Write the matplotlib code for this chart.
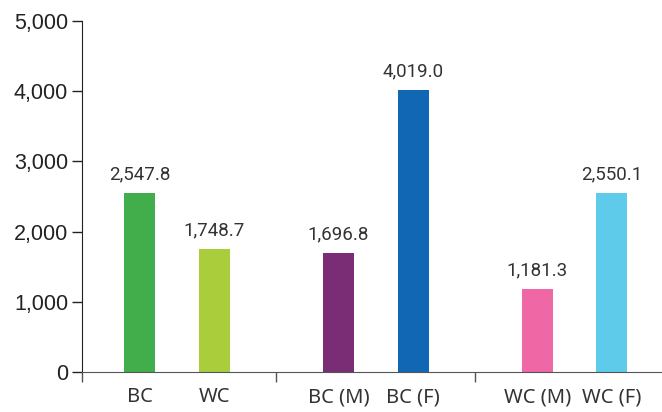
import numpy as np
import matplotlib
matplotlib.use('Agg')
import matplotlib.pyplot as plt

# data
groups = ['all', 'BC', 'WC']
labels = ['BC', 'WC', 'BC (M)', 'BC (F)', 'WC (M)', 'WC (F)']
values = [2547.8, 1748.7, 1696.8, 4019.0, 1181.3, 2550.1]
colors = ['#41AE4B', '#A9CD3B', '#7A2C74', '#1167B4', '#F067A6', '#5ECBEB']
yticks = [0, 1000, 2000, 3000, 4000, 5000]

fig = plt.figure(figsize=(6.62, 4.12), dpi=100)
ax = fig.add_axes([82 / 662, 40 / 412, 592 / 662, 351 / 412])

# two bars per group, groups centred on 0, 1, 2
offset = 0.188
width = 0.156
xpos = []
for g in range(len(groups)):
    xpos += [g - offset, g + offset]

bars = ax.bar(xpos, values, width=width, color=colors)
ax.bar_label(bars, labels=[f'{v:,.1f}' for v in values], padding=7,
             fontsize=13.5, color='#333333', family='Roboto')

ax.set_xlim(-0.477, 2.5)
ax.set_ylim(0, 5000)

ax.set_yticks(yticks)
ax.set_yticklabels([f'{t:,}' for t in yticks], fontsize=15.5,
                   family='Liberation Sans', color='#222222')
ax.tick_params(axis='y', length=7, width=1, color='#222222', pad=3)

# group separators as major ticks, bar names as minor ticks
ax.set_xticks([-0.477, 0.5, 1.5])
ax.set_xticklabels([])
ax.tick_params(axis='x', which='major', length=7, width=1, color='#555555')
ax.set_xticks(xpos, minor=True)
ax.set_xticklabels(labels, minor=True, fontsize=14.5, family='Noto Sans',
                   color='#333333')
ax.tick_params(axis='x', which='minor', length=0, pad=11)

for s in ['top', 'right']:
    ax.spines[s].set_visible(False)
ax.spines['left'].set_color('#222222')
ax.spines['bottom'].set_color('#555555')
ax.spines['left'].set_bounds(0, 5000)

fig.savefig('out.png', dpi=100)
